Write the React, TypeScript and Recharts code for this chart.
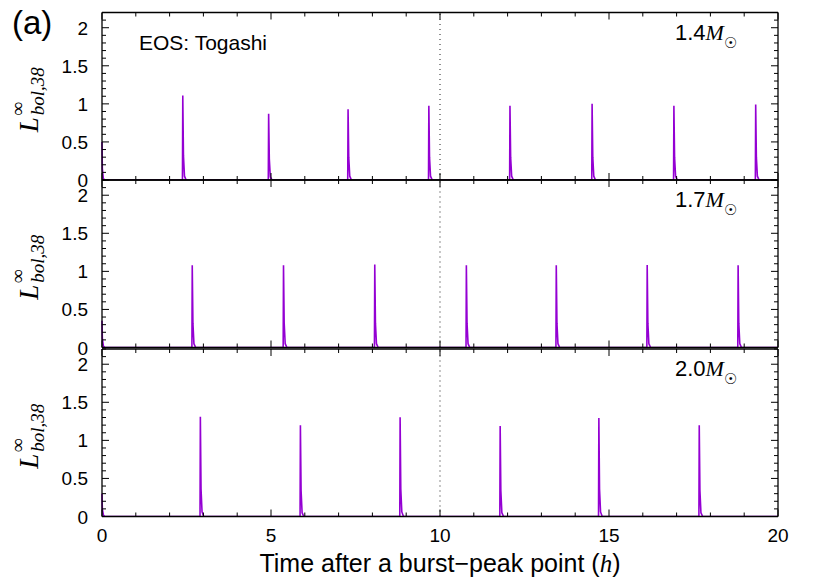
import { LineChart, Line, XAxis, YAxis, ReferenceLine } from 'recharts';

// time (h) and L_bol,38, one list per stellar mass
const curve14: [number, number][] = [
  [0, 0.5], [0.01, 0.15], [0.04, 0.02], [0.08, 0],
  [2.38, 0], [2.39, 1.11], [2.41, 0.32], [2.44, 0.05], [2.49, 0],
  [4.92, 0], [4.93, 0.87], [4.95, 0.28], [4.98, 0.04], [5.03, 0],
  [7.27, 0], [7.28, 0.93], [7.3, 0.3], [7.33, 0.05], [7.38, 0],
  [9.66, 0], [9.67, 0.975], [9.69, 0.3], [9.72, 0.05], [9.77, 0],
  [12.06, 0], [12.07, 0.975], [12.09, 0.3], [12.12, 0.05], [12.17, 0],
  [14.49, 0], [14.5, 1.0], [14.52, 0.3], [14.55, 0.05], [14.6, 0],
  [16.91, 0], [16.92, 0.975], [16.94, 0.3], [16.97, 0.05], [17.02, 0],
  [19.33, 0], [19.34, 0.99], [19.36, 0.3], [19.39, 0.05], [19.44, 0],
  [20, 0],
];

const curve17: [number, number][] = [
  [0, 0.35], [0.01, 0.12], [0.04, 0.02], [0.08, 0],
  [2.66, 0], [2.67, 1.08], [2.69, 0.32], [2.72, 0.05], [2.77, 0],
  [5.36, 0], [5.37, 1.08], [5.39, 0.32], [5.42, 0.05], [5.47, 0],
  [8.06, 0], [8.07, 1.09], [8.09, 0.32], [8.12, 0.05], [8.17, 0],
  [10.77, 0], [10.78, 1.08], [10.8, 0.32], [10.83, 0.05], [10.88, 0],
  [13.43, 0], [13.44, 1.08], [13.46, 0.32], [13.49, 0.05], [13.54, 0],
  [16.12, 0], [16.13, 1.085], [16.15, 0.32], [16.18, 0.05], [16.23, 0],
  [18.81, 0], [18.82, 1.08], [18.84, 0.32], [18.87, 0.05], [18.92, 0],
  [20, 0],
];

const curve20: [number, number][] = [
  [0, 0.3], [0.01, 0.1], [0.04, 0.02], [0.08, 0],
  [2.9, 0], [2.91, 1.31], [2.93, 0.36], [2.96, 0.06], [3.01, 0],
  [5.86, 0], [5.87, 1.2], [5.89, 0.34], [5.92, 0.05], [5.97, 0],
  [8.81, 0], [8.82, 1.305], [8.84, 0.36], [8.87, 0.06], [8.92, 0],
  [11.77, 0], [11.78, 1.19], [11.8, 0.34], [11.83, 0.05], [11.88, 0],
  [14.69, 0], [14.7, 1.295], [14.72, 0.36], [14.75, 0.06], [14.8, 0],
  [17.66, 0], [17.67, 1.2], [17.69, 0.34], [17.72, 0.05], [17.77, 0],
  [20, 0],
];

const masses = ['1.4', '1.7', '2.0'];
const xTicks = [0, 1, 2, 3, 4, 5, 6, 7, 8, 9, 10, 11, 12, 13, 14, 15, 16, 17, 18, 19, 20];
const yTicks = [0, 0.1, 0.2, 0.3, 0.4, 0.5, 0.6, 0.7, 0.8, 0.9, 1, 1.1, 1.2, 1.3, 1.4, 1.5, 1.6, 1.7, 1.8, 1.9, 2, 2.1, 2.2];

const W = 830;
const H = 582;
const LEFT = 102;
const RIGHT = 778;
const panels = [
  { top: 12.5, bottom: 180 },
  { top: 180, bottom: 347.5 },
  { top: 349, bottom: 516.5 },
];

const SANS = '"Liberation Sans", Arial, sans-serif';
const SERIF = '"Liberation Serif", "Times New Roman", serif';

const isMajorX = (v: number) => v % 5 === 0;
const isMajorY = (v: number) => Math.abs(v * 2 - Math.round(v * 2)) < 1e-6;

const bottomTick = (labels: boolean) => (p: any) => {
  const v = p.payload.value;
  const major = isMajorX(v);
  return (
    <g>
      <line x1={p.x} y1={p.y} x2={p.x} y2={p.y - (major ? 7 : 4)} stroke="#000" />
      {labels && major && (
        <text x={p.x} y={p.y + 25} textAnchor="middle" fontSize={19} fontFamily={SANS} fill="#000">{v}</text>
      )}
    </g>
  );
};

const topTick = (p: any) => {
  const major = isMajorX(p.payload.value);
  return <line x1={p.x} y1={p.y} x2={p.x} y2={p.y + (major ? 7 : 4)} stroke="#000" />;
};

const leftTick = (p: any) => {
  const v = p.payload.value;
  const major = isMajorY(v);
  return (
    <g>
      <line x1={p.x} y1={p.y} x2={p.x + (major ? 7 : 4)} y2={p.y} stroke="#000" />
      {major && (
        <text x={p.x - 14} y={p.y + 7} textAnchor="end" fontSize={19} fontFamily={SANS} fill="#000">{String(v)}</text>
      )}
    </g>
  );
};

const rightTick = (p: any) => {
  const major = isMajorY(p.payload.value);
  return <line x1={p.x} y1={p.y} x2={p.x - (major ? 7 : 4)} y2={p.y} stroke="#000" />;
};

function Panel({ curve, top, bottom, labels }: { curve: [number, number][]; top: number; bottom: number; labels: boolean }) {
  const data = curve.map(([t, L]) => ({ t, L }));
  const axisLine = { stroke: '#000', strokeWidth: 1.3 };
  return (
    <div style={{ position: 'absolute', left: 0, top: 0 }}>
      <LineChart width={W} height={H} data={data}
        margin={{ top: top - 1, bottom: H - bottom - 1, left: LEFT - 1, right: W - RIGHT - 1 }}>
        <XAxis xAxisId="b" type="number" dataKey="t" domain={[0, 20]} ticks={xTicks} interval={0}
          height={1} tickSize={0} tickMargin={0} tickLine={false} axisLine={axisLine} tick={bottomTick(labels)} />
        <XAxis xAxisId="t" orientation="top" type="number" dataKey="t" domain={[0, 20]} ticks={xTicks} interval={0}
          height={1} tickSize={0} tickMargin={0} tickLine={false} axisLine={axisLine} tick={topTick} />
        <YAxis yAxisId="l" type="number" domain={[0, 2.2]} ticks={yTicks} interval={0} allowDataOverflow
          width={1} tickSize={0} tickMargin={0} tickLine={false} axisLine={axisLine} tick={leftTick} />
        <YAxis yAxisId="r" orientation="right" type="number" domain={[0, 2.2]} ticks={yTicks} interval={0} allowDataOverflow
          width={1} tickSize={0} tickMargin={0} tickLine={false} axisLine={axisLine} tick={rightTick} />
        <ReferenceLine xAxisId="b" yAxisId="l" x={10} stroke="#444" strokeDasharray="1 4" strokeWidth={1.2} />
        <Line xAxisId="b" yAxisId="l" type="linear" dataKey="L" stroke="#9400d3" strokeWidth={1.6}
          dot={false} isAnimationActive={false} />
      </LineChart>
    </div>
  );
}

function YLabel({ cy }: { cy: number }) {
  return (
    <g transform={`translate(38, ${cy}) rotate(-90)`}>
      <text x={-36} y={0} fontSize={27} fontFamily={SERIF} fontStyle="italic" fill="#000">L</text>
      <text x={-19} y={-14} fontSize={19} fontFamily={SERIF} fontStyle="italic" fill="#000">∞</text>
      <text x={-19} y={6} fontSize={19} fontFamily={SERIF} fontStyle="italic" fill="#000">bol,38</text>
    </g>
  );
}

export default function App() {
  const curves = [curve14, curve17, curve20];
  return (
    <div style={{ position: 'absolute', left: 0, top: 0, width: W, height: H, background: '#fff' }}>
      {panels.map((p, i) => (
        <Panel key={i} curve={curves[i]} top={p.top} bottom={p.bottom} labels={i === 2} />
      ))}
      <svg width={W} height={H} style={{ position: 'absolute', left: 0, top: 0, pointerEvents: 'none' }}>
        <text x={12} y={34} fontSize={33} fontFamily={SANS} fill="#000">(a)</text>
        <text x={139} y={50} fontSize={21} fontFamily={SANS} fill="#000">EOS: Togashi</text>
        {panels.map((p, i) => (
          <g key={i}>
            <YLabel cy={(p.top + p.bottom) / 2} />
            <text x={675} y={p.top + 27} fontSize={22} fontFamily={SANS} fill="#000">
              {masses[i]}
              <tspan fontFamily={SERIF} fontStyle="italic">M</tspan>
              <tspan dy={8} fontSize={15} fontFamily='"DejaVu Sans", sans-serif'>☉</tspan>
            </text>
          </g>
        ))}
        <text x={440} y={572} textAnchor="middle" fontSize={25} fontFamily={SANS} fill="#000">
          Time after a burst−peak point (<tspan fontFamily={SERIF} fontStyle="italic">h</tspan>)
        </text>
      </svg>
    </div>
  );
}
